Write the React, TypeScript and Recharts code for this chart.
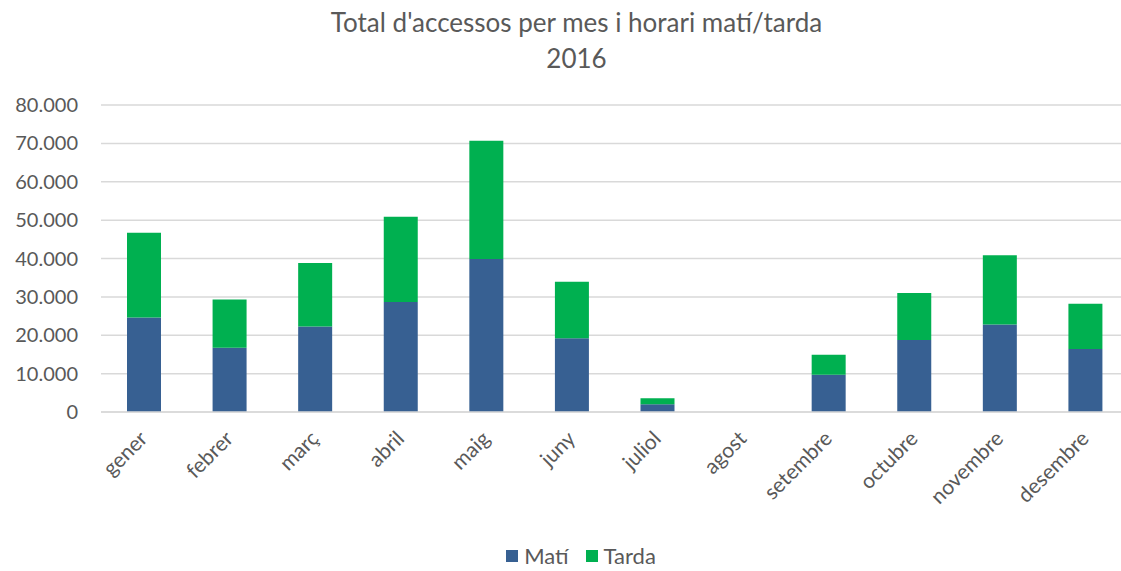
import React from 'react';
import { BarChart, Bar, XAxis, YAxis, CartesianGrid, Legend } from 'recharts';

const months = ['gener', 'febrer', 'març', 'abril', 'maig', 'juny', 'juliol', 'agost', 'setembre', 'octubre', 'novembre', 'desembre'];
const mati = [24600, 16750, 22250, 28650, 39900, 19200, 2000, 0, 9700, 18770, 22780, 16400];
const tarda = [22100, 12550, 16600, 22250, 30800, 14750, 1600, 0, 5200, 12230, 18060, 11800];
const yTicks = [0, 10000, 20000, 30000, 40000, 50000, 60000, 70000, 80000];

const FONT = 'Lato, "Open Sans", sans-serif';
const GREY = '#595959';

const data = months.map((m, i) => ({ month: m, mati: mati[i], tarda: tarda[i] }));

const fmt = (v: number) => v.toLocaleString('de-DE');

const MonthTick = ({ x, y, payload }: any) => (
  <text
    x={x + 5}
    y={y + 20}
    transform={`rotate(-45, ${x + 5}, ${y + 20})`}
    textAnchor="end"
    fill={GREY}
    fontSize={21}
    fontFamily={FONT}
  >
    {payload.value}
  </text>
);

const LegendContent = () => (
  <div style={{ display: 'flex', justifyContent: 'center', alignItems: 'center', fontFamily: FONT, fontSize: 22, color: GREY, paddingTop: 10, paddingLeft: 34 }}>
    <span style={{ width: 12, height: 12, background: '#376092', display: 'inline-block', marginRight: 6 }} />
    <span style={{ marginRight: 17 }}>Matí</span>
    <span style={{ width: 12, height: 12, background: '#00b050', display: 'inline-block', marginRight: 6 }} />
    <span>Tarda</span>
  </div>
);

export default function App() {
  return (
    <div style={{ position: 'absolute', left: 0, top: 0, width: 1121, height: 571, background: '#fff', overflow: 'hidden' }}>
      <div style={{ position: 'absolute', left: 0, top: 4, width: 1153, textAlign: 'center', fontFamily: FONT, fontSize: 26, color: GREY, lineHeight: '36px' }}>
        Total d'accessos per mes i horari matí/tarda
        <br />
        2016
      </div>
      <BarChart width={1121} height={571} data={data} margin={{ top: 105, right: -7, left: 0, bottom: 0 }}>
        <CartesianGrid vertical={false} stroke="#d9d9d9" strokeWidth={1.5} />
        <XAxis
          dataKey="month"
          height={120}
          interval={0}
          tickLine={false}
          axisLine={{ stroke: '#d9d9d9', strokeWidth: 1.5 }}
          tick={<MonthTick />}
        />
        <YAxis
          width={101}
          domain={[0, 80000]}
          ticks={yTicks}
          tickFormatter={fmt}
          axisLine={false}
          tickLine={false}
          tickSize={0}
          tickMargin={23}
          tick={{ fill: GREY, fontSize: 20, fontFamily: FONT }}
        />
        <Legend verticalAlign="bottom" height={39} content={<LegendContent />} />
        <Bar dataKey="mati" name="Matí" stackId="a" fill="#376092" barSize={34} isAnimationActive={false} />
        <Bar dataKey="tarda" name="Tarda" stackId="a" fill="#00b050" barSize={34} isAnimationActive={false} />
      </BarChart>
    </div>
  );
}
